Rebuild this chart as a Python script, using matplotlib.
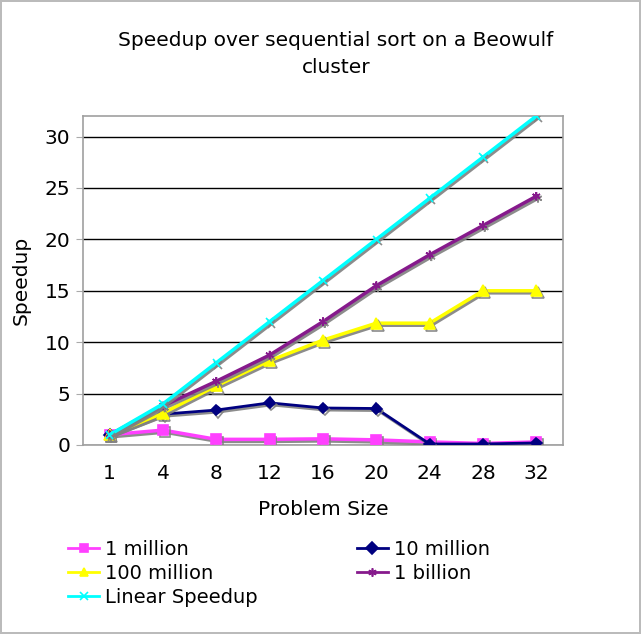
import matplotlib
matplotlib.use("Agg")
import matplotlib.pyplot as plt
import matplotlib.patheffects as pe

# Number of processors (category axis) and measured speedups
sizes = ["1", "4", "8", "12", "16", "20", "24", "28", "32"]
one_million = [1.0, 1.45, 0.55, 0.55, 0.6, 0.5, 0.3, 0.15, 0.3]
ten_million = [1.0, 3.0, 3.4, 4.1, 3.6, 3.55, 0.1, 0.1, 0.2]
hundred_million = [1.0, 3.1, 5.75, 8.2, 10.2, 11.85, 11.85, 15.0, 15.0]
one_billion = [1.0, 3.8, 6.2, 8.75, 12.0, 15.5, 18.5, 21.35, 24.2]
linear = [1, 4, 8, 12, 16, 20, 24, 28, 32]

plt.rcParams["font.family"] = ["DejaVu Sans"]

fig = plt.figure(figsize=(6.41, 6.34), dpi=100)
fig.patch.set_edgecolor("#BBBBBB")
fig.patch.set_linewidth(1.5)

ax = fig.add_axes([83 / 641, 1 - 445 / 634, 480 / 641, 329 / 634])
x = list(range(len(sizes)))

shadow = [pe.SimpleLineShadow(offset=(1.2, -1.5), shadow_color="#808080", alpha=0.9),
          pe.Normal()]

series = [
    ("1 million", one_million, "#FF40FF", "s", 7, 2.5),
    ("10 million", ten_million, "#000080", "D", 5.5, 2),
    ("100 million", hundred_million, "#FFFF00", "^", 8, 2.5),
    ("1 billion", one_billion, "#861A8C", (6, 2, 0), 6, 2.5),
    ("Linear Speedup", linear, "#00FFFF", "x", 5.5, 2.5),
]
handles = {}
for name, vals, col, mk, ms, lw in series:
    h, = ax.plot(x, vals, color=col, marker=mk, markersize=ms, linewidth=lw,
                 markeredgecolor=col, markeredgewidth=1.2, label=name,
                 path_effects=shadow, zorder=3)
    handles[name] = h

ax.set_xlim(-0.5, len(sizes) - 0.5)
ax.set_ylim(0, 32)
ax.set_xticks(x)
ax.set_xticklabels(sizes)
ax.set_yticks([0, 5, 10, 15, 20, 25, 30])
ax.tick_params(axis="x", length=0, pad=14, labelsize=14.5)
ax.tick_params(axis="y", length=5, color="#AAAAAA", pad=4, labelsize=14.5)
ax.yaxis.grid(True, color="black", linewidth=1)
ax.set_axisbelow(True)
for s in ax.spines.values():
    s.set_color("#A0A0A0")
    s.set_linewidth(1.2)

ax.set_xlabel("Problem Size", fontsize=14.5, labelpad=12)
ax.set_ylabel("Speedup", fontsize=14.5, labelpad=10)

fig.text(0.524, 1 - 54 / 634, "Speedup over sequential sort on a Beowulf\ncluster",
         ha="center", va="center", fontsize=14.5, linespacing=1.55)

order = ["1 million", "100 million", "Linear Speedup", "10 million", "1 billion"]
leg = fig.legend([handles[n] for n in order], order, ncol=2,
                 loc="upper left", bbox_to_anchor=(68 / 641, 1 - 540 / 634),
                 frameon=False, fontsize=14, handlelength=1.6, handletextpad=0.3,
                 columnspacing=5.1, labelspacing=0.25, borderaxespad=0,
                 borderpad=0)
for h in leg.legend_handles:
    h.set_path_effects([])
    h.set_linewidth(2)
    h.set_markersize(6)

fig.savefig("out.png", dpi=100, edgecolor=fig.get_edgecolor())
